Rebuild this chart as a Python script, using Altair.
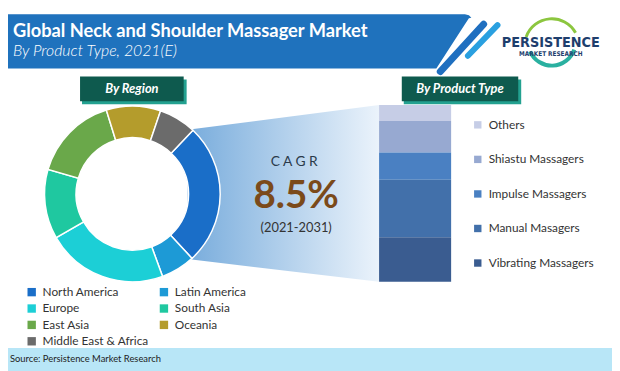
import math
import altair as alt
import pandas as pd

OFF = 8
def X(v): return v - OFF
def Y(v): return v - OFF

# ---------------- data ----------------
regions = ["North America", "Latin America", "Europe", "South Asia",
           "East Asia", "Oceania", "Middle East & Africa"]
region_share = [26.0, 6.3, 22.3, 12.8, 15.7, 10.0, 6.9]
region_colors = ["#1a6ec8", "#1d9ad6", "#1ccfd6", "#1fc8a0",
                 "#6aa84a", "#b49c2c", "#6b6b6b"]

products = ["Others", "Shiastu Massagers", "Impulse Massagers",
            "Manual Masagers", "Vibrating Massagers"]
product_share = [9.0, 17.8, 15.5, 32.5, 25.2]
product_colors = ["#c6cde6", "#97a9d1", "#4a80c2", "#4270aa", "#3a5c90"]

title = "Global Neck and Shoulder Massager Market"
subtitle = "By Product Type, 2021(E)"
cagr_label = "C A G R"
cagr_value = "8.5%"
cagr_period = "(2021-2031)"
source = "Source: Persistence Market Research"

one = pd.DataFrame({"a": [0]})

def txt(s, x, y, size, color, weight="normal", style="normal", align="left",
        baseline="alphabetic", font="Lato"):
    return alt.Chart(one).mark_text(
        text=s, fontSize=size, color=color, fontWeight=weight, fontStyle=style,
        align=align, baseline=baseline, font=font
    ).encode(x=alt.value(X(x)), y=alt.value(Y(y)))

def rect(x1, y1, x2, y2, color):
    return alt.Chart(one).mark_rect(color=color).encode(
        x=alt.value(X(x1)), x2=alt.value(X(x2)),
        y=alt.value(Y(y1)), y2=alt.value(Y(y2)))

def rule(x1, y1, x2, y2, color, w):
    return alt.Chart(one).mark_rule(color=color, strokeWidth=w, strokeCap="round").encode(
        x=alt.value(X(x1)), x2=alt.value(X(x2)),
        y=alt.value(Y(y1)), y2=alt.value(Y(y2)))

def arc(cx, cy, r1, r2, t1, t2, color):
    return alt.Chart(one).mark_arc(radius=r2, innerRadius=r1, theta=t1, theta2=t2,
                                   color=color).encode(
        x=alt.value(X(cx)), y=alt.value(Y(cy)))

# ---------------- banner ----------------
ban_df = pd.DataFrame({
    "x": [X(-2), X(442), X(471), X(475), X(477.5)],
    "y": [Y(12), Y(12), Y(12), Y(13), Y(15.5)],
    "y2": [Y(67), Y(67), Y(22), Y(16), Y(15.5)],
})
banner = alt.Chart(ban_df).mark_area(color="#1f72bd").encode(
    x=alt.X("x:Q", scale=None, axis=None),
    y=alt.Y("y:Q", scale=None, axis=None),
    y2="y2:Q")

# ---------------- trapezoid ----------------
trap_df = pd.DataFrame({"x": [X(190), X(384)], "y": [Y(129), Y(104)],
                        "y2": [Y(260), Y(283)]})
trap = alt.Chart(trap_df).mark_area(
    color={"gradient": "linear", "x1": 0, "x2": 1, "y1": 0, "y2": 0,
           "stops": [{"offset": 0, "color": "#78acdc"},
                     {"offset": 1, "color": "#ebf3fb"}]}
).encode(x=alt.X("x:Q", scale=None, axis=None),
         y=alt.Y("y:Q", scale=None, axis=None), y2="y2:Q")

# ---------------- donut ----------------
reg_df = pd.DataFrame({"region": regions, "share": region_share,
                       "ord": list(range(len(regions)))})
start = 0.761
donut = alt.Chart(reg_df).mark_arc(radius=89, innerRadius=57, stroke="white",
                                   strokeWidth=1.5).encode(
    theta=alt.Theta("share:Q", stack=True,
                    scale=alt.Scale(domain=[0, 100], range=[start, start + 2 * math.pi])),
    order=alt.Order("ord:Q"),
    color=alt.Color("region:N", sort=regions,
                    scale=alt.Scale(domain=regions, range=region_colors),
                    legend=alt.Legend(title=None, orient="none", legendX=X(26), legendY=Y(287.5),
                                      columns=2, direction="horizontal",
                                      symbolType="square", symbolSize=72,
                                      symbolStrokeWidth=0, labelFont="Lato", labelFontSize=12,
                                      labelColor="#333333", columnPadding=9, rowPadding=4.6,
                                      labelOffset=5, padding=0)),
    x=alt.value(X(134)), y=alt.value(Y(194)))

# ---------------- stacked bar ----------------
prod_df = pd.DataFrame({"product": products, "share": product_share,
                        "ord": [4, 3, 2, 1, 0]})
bar = alt.Chart(prod_df).transform_stack(
    stack="share", as_=["s0", "s1"], groupby=[],
    sort=[alt.SortField("ord", order="ascending")]
).mark_rect().encode(
    y=alt.Y("s0:Q", scale=alt.Scale(domain=[0, 100], range=[Y(283), Y(104)]), axis=None),
    y2="s1:Q",
    color=alt.Color("product:N", sort=products,
                    scale=alt.Scale(domain=products, range=product_colors),
                    legend=alt.Legend(title=None, orient="none", legendX=X(478), legendY=Y(118),
                                      symbolType="square", symbolSize=56, symbolStrokeWidth=0,
                                      labelFont="Lato", labelFontSize=12, labelColor="#333333",
                                      rowPadding=23, labelOffset=5, padding=0)),
    x=alt.value(X(384)), x2=alt.value(X(457)))

layers = [
    banner,
    rule(446, 70, 490, 22, "#1f6fc0", 7),
    rule(474, 54, 504, 23, "#2aa0e0", 6),
    arc(559, 44, 26, 29, 5.05, 7.35, "#8cc63f"),
    arc(559, 40, 22, 26, 1.9, 4.3, "#2ab0a0"),
    txt("PERSISTENCE", 558, 45, 14.5, "#1e3e6d", weight="bold", align="center",
        font="DejaVu Sans Condensed"),
    txt("MARKET RESEARCH", 558, 54, 6.5, "#1e3e6d", weight="bold", align="center",
        font="DejaVu Sans Condensed"),
    txt(title, 13, 35, 18.5, "white", weight="bold"),
    txt(subtitle, 13, 54, 16, "white", style="italic", weight=300),
    rect(83, 78, 189, 103, "#23a190"),
    rect(81, 75, 186, 100, "#0e5a4e"),
    txt("By Region", 133.5, 88, 13, "white", weight="bold", style="italic",
        align="center", baseline="middle"),
    rect(409, 78, 528, 103, "#23a190"),
    rect(407, 75, 525, 100, "#0e5a4e"),
    txt("By Product Type", 466, 88, 13, "white", weight="bold", style="italic",
        align="center", baseline="middle"),
    trap,
    donut,
    bar,
    txt(cagr_label, 298, 166, 14, "#2b3a4a", align="center"),
    txt(cagr_value, 300, 208, 39, "#7b4a1a", weight="bold", align="center"),
    txt(cagr_period, 300, 233, 13, "#333333", align="center"),
    rect(-10, 350, 630, 380, "#b8e6f7"),
    txt(source, 10, 361, 9.5, "#222222", baseline="middle"),
]

chart = alt.layer(*layers).resolve_scale(
    x="independent", y="independent", color="independent", theta="independent"
).properties(
    width=612, height=363, padding=0, autosize="none", background="white"
).configure_view(stroke=None)

chart.save("out.html", embed_options={"renderer": "svg", "actions": False})
